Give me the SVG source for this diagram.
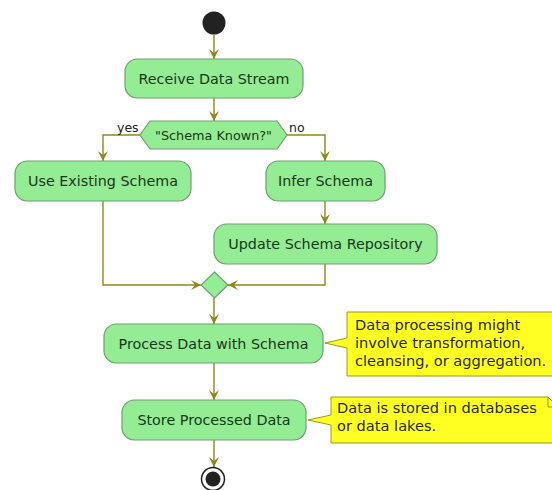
<svg xmlns="http://www.w3.org/2000/svg" width="552" height="490" viewBox="0 0 552 490">
<defs>
<style>
.act rect{fill:#94ec94;stroke:#6f9f6f;stroke-width:1.2}
.act text{font-family:"DejaVu Sans",sans-serif;font-size:14.3px;fill:#183818;text-anchor:middle}
.dec polygon{fill:#94ec94;stroke:#6f9f6f;stroke-width:1.2}
.lbl{font-family:"DejaVu Sans",sans-serif;font-size:12.5px;fill:#222}
.note path{fill:#ffff22;stroke:#9a9a20;stroke-width:1}
.note text{font-family:"DejaVu Sans",sans-serif;font-size:14.6px;fill:#2a2a10}
#connectors path{fill:none;stroke:#8a8a18;stroke-width:1.4;marker-end:url(#arr)}
</style>
<marker id="arr" viewBox="0 0 10 10" refX="10" refY="5" markerWidth="10" markerHeight="10" markerUnits="userSpaceOnUse" orient="auto">
<path d="M0,0 L10,5 L0,10 L4,5 Z" fill="#8a8a18"/>
</marker>
</defs>
<rect width="552" height="490" fill="#ffffff"/>
<g id="connectors">
<path d="M214,35 V59"/>
<path d="M214,98 V121"/>
<path d="M140,135 H103 V161"/>
<path d="M287,135 H325 V161"/>
<path d="M325,201 V224"/>
<path d="M103,201 V285 H201"/>
<path d="M325,264 V285 H228"/>
<path d="M214,298 V324"/>
<path d="M214,363 V400"/>
<path d="M214,440 V467"/>
</g>
<g id="start"><circle cx="214" cy="23" r="11.5" fill="#222"/></g>
<g id="receive" class="act"><rect x="125" y="59" width="178" height="39" rx="12.5"/><text x="214" y="83.5">Receive Data Stream</text></g>
<g id="decision" class="dec">
<polygon points="140,135 150,121 277,121 287,135 277,149 150,149"/>
<text x="213.5" y="140" style="font-family:'DejaVu Sans',sans-serif;font-size:12.8px;fill:#183818;text-anchor:middle">"Schema Known?"</text>
<text class="lbl" x="117" y="132">yes</text>
<text class="lbl" x="289" y="132">no</text>
</g>
<g id="use-existing" class="act"><rect x="15" y="161" width="176" height="40" rx="12.5"/><text x="103" y="186">Use Existing Schema</text></g>
<g id="infer" class="act"><rect x="266" y="161" width="119" height="40" rx="12.5"/><text x="325.5" y="186">Infer Schema</text></g>
<g id="update" class="act"><rect x="214" y="224" width="223" height="40" rx="12.5"/><text x="325.5" y="249">Update Schema Repository</text></g>
<g id="merge" class="dec"><polygon points="214.5,272 228,285 214.5,298 201,285"/></g>
<g id="process" class="act"><rect x="104" y="324" width="219" height="39" rx="12.5"/><text x="213.5" y="348.5">Process Data with Schema</text></g>
<g id="store" class="act"><rect x="122" y="400" width="184" height="40" rx="12.5"/><text x="214" y="425">Store Processed Data</text></g>
<g id="end"><circle cx="213" cy="479" r="11.5" fill="#fff" stroke="#222" stroke-width="1.5"/><circle cx="213" cy="479" r="7.5" fill="#222"/></g>
<g id="note1" class="note">
<path d="M347,312 L555,312 L565,322 L565,376 L347,376 L347,348 L325,343 L347,338 Z"/>
<text x="355" y="330">Data processing might</text>
<text x="355" y="348">involve transformation,</text>
<text x="355" y="366">cleansing, or aggregation.</text>
</g>
<g id="note2" class="note">
<path d="M331,397 L548,397 L558,407 L558,443 L331,443 L331,425 L308,420 L331,415 Z"/>
<path d="M548,397 V407 H558" style="fill:none"/>
<text x="337" y="413">Data is stored in databases</text>
<text x="337" y="431">or data lakes.</text>
</g>
</svg>
